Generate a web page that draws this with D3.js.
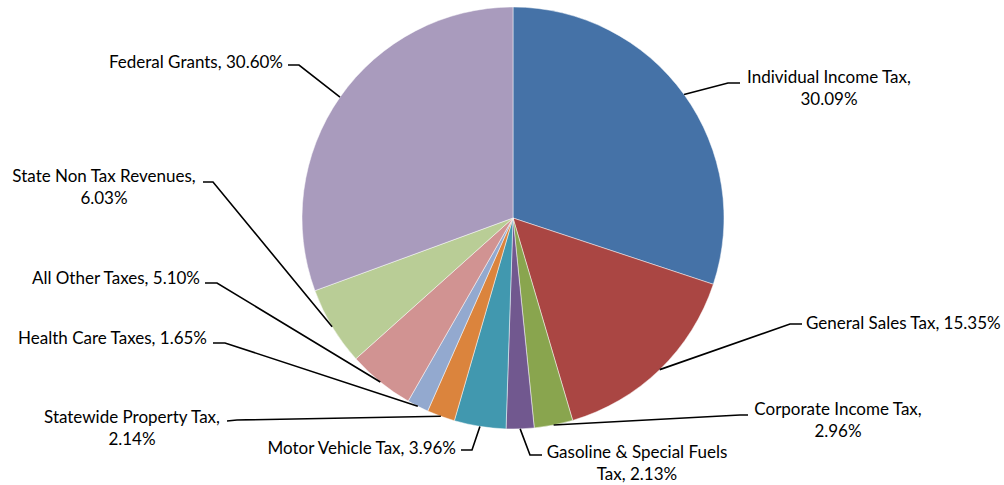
<!DOCTYPE html>
<html>
<head>
<meta charset="utf-8">
<script src="https://cdn.jsdelivr.net/npm/d3@7"></script>
<style>
  body { margin: 0; background: #fff; }
  #chart { width: 1004px; height: 485px; }
  .slice-label { font-family: Lato, "Open Sans", sans-serif; font-size: 17px; fill: #000; }
</style>
</head>
<body>
<div id="chart"></div>
<script>
// revenue sources, clockwise from 12 o'clock
const categories = [
    "Individual Income Tax", "General Sales Tax", "Corporate Income Tax",
    "Gasoline & Special Fuels Tax", "Motor Vehicle Tax", "Statewide Property Tax",
    "Health Care Taxes", "All Other Taxes", "State Non Tax Revenues", "Federal Grants"
];
const shares = [30.09, 15.35, 2.96, 2.13, 3.96, 2.14, 1.65, 5.10, 6.03, 30.60];
const colors = ["#4572A7", "#AA4643", "#89A54E", "#71588F", "#4198AF",
                "#DB843D", "#93A9CF", "#D19392", "#B9CD96", "#A99BBD"];

// how each label text is broken into lines
const labelLines = [
    ["Individual Income Tax,", "30.09%"],
    ["General Sales Tax, 15.35%"],
    ["Corporate Income Tax,", "2.96%"],
    ["Gasoline & Special Fuels", "Tax, 2.13%"],
    ["Motor Vehicle Tax, 3.96%"],
    ["Statewide Property Tax,", "2.14%"],
    ["Health Care Taxes, 1.65%"],
    ["All Other Taxes, 5.10%"],
    ["State Non Tax Revenues,", "6.03%"],
    ["Federal Grants, 30.60%"]
];

// label placement (manual, like the original): text x / first baseline / anchor,
// then the leader's elbow and its end next to the text
const labelLayout = [
    {x: 829, y: 83,  anchor: "middle", elbow: [728, 83],  end: [740, 83]},
    {x: 806, y: 329, anchor: "start",  elbow: [790, 324], end: [802, 324]},
    {x: 838, y: 415, anchor: "middle", elbow: [740, 415], end: [748, 415]},
    {x: 637, y: 458, anchor: "middle", elbow: [530, 455], end: [542, 455]},
    {x: 456, y: 454, anchor: "end",    elbow: [472, 450], end: [461, 450]},
    {x: 132, y: 423, anchor: "middle", elbow: [237, 420], end: [227, 421]},
    {x: 207, y: 344, anchor: "end",    elbow: [225, 343], end: [213, 343]},
    {x: 200, y: 284, anchor: "end",    elbow: [217, 283], end: [205, 283]},
    {x: 104, y: 182, anchor: "middle", elbow: [213, 182], end: [203, 182]},
    {x: 283, y: 68,  anchor: "end",    elbow: [299, 65],  end: [288, 65]}
];

function renderPie(selector) {
    const width = 1004, height = 485;
    const cx = 513, cy = 218, radius = 211;
    const lineHeight = 22;

    const svg = d3.select(selector).append("svg")
        .attr("width", width)
        .attr("height", height)
        .attr("viewBox", `0 0 ${width} ${height}`);

    const data = categories.map((c, i) => ({
        name: c, value: shares[i], color: colors[i], lines: labelLines[i], layout: labelLayout[i]
    }));

    const pie = d3.pie().value(d => d.value).sort(null);
    const arcs = pie(data);

    const arc = d3.arc().innerRadius(0).outerRadius(radius);

    const g = svg.append("g").attr("transform", `translate(${cx}, ${cy})`);

    g.selectAll(".slice")
        .data(arcs)
        .enter()
        .append("path")
        .attr("class", "slice")
        .attr("d", arc)
        .attr("fill", d => d.data.color)
        .attr("stroke", "#fff")
        .attr("stroke-width", 0.6)
        .attr("stroke-opacity", 0.8);

    // leader lines start at the rim, mid-angle of each slice
    const rim = d => {
        const a = (d.startAngle + d.endAngle) / 2;
        return [cx + radius * Math.sin(a), cy - radius * Math.cos(a)];
    };

    svg.selectAll(".leader")
        .data(arcs)
        .enter()
        .append("polyline")
        .attr("class", "leader")
        .attr("points", d => [rim(d), d.data.layout.elbow, d.data.layout.end].map(p => p.join(",")).join(" "))
        .attr("fill", "none")
        .attr("stroke", "#000")
        .attr("stroke-width", 1.6);

    const labels = svg.selectAll(".slice-label")
        .data(arcs)
        .enter()
        .append("text")
        .attr("class", "slice-label")
        .attr("text-anchor", d => d.data.layout.anchor)
        .attr("x", d => d.data.layout.x)
        .attr("y", d => d.data.layout.y);

    labels.each(function(d) {
        const t = d3.select(this);
        d.data.lines.forEach((line, i) => {
            t.append("tspan")
                .attr("x", d.data.layout.x)
                .attr("dy", i === 0 ? 0 : lineHeight)
                .text(line);
        });
    });
}

renderPie("#chart");
</script>
</body>
</html>
